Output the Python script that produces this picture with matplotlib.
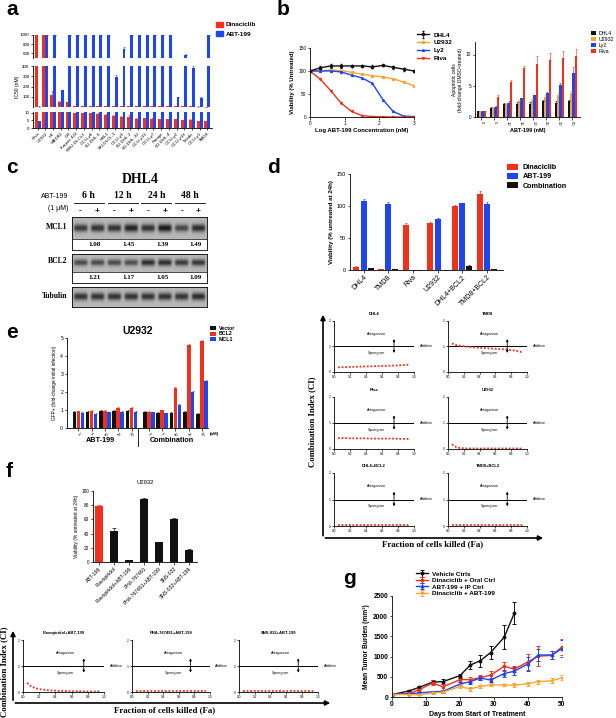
import numpy as np
import matplotlib
matplotlib.use("Agg")
import matplotlib.pyplot as plt
from matplotlib.patches import FancyArrowPatch, Rectangle
from matplotlib.lines import Line2D

plt.rcParams["font.family"] = ["Liberation Sans", "DejaVu Sans"]
plt.rcParams["axes.linewidth"] = 0.6

W, H = 616, 718
RED = "#f2311d"
BLUE = "#1f45f0"
ORANGE = "#f5a833"
BLACK = "#111111"
SERIF = ["Liberation Serif", "DejaVu Serif"]

# ---- a: IC50 per cell line ----
a_lines = ["Riva", "U2932", "HT", "MEDB1", "DB", "Karpas 422", "WSU-DLCL2", "OCI-Ly8",
           "SU-DHL-6", "HBL1", "SKI-DLCL-1", "OCI-Ly3", "SU-DHL-2", "SU-DHL-10", "OCI-Ly19",
           "OCI-Ly7", "Farage", "SU-DHL-4", "OCI-Ly2", "OCI-Ly18", "Toledo", "OCI-Ly1", "TMD8"]
a_dina = [1000, 1000, 120, 50, 45, 10, 10, 10, 9.5, 8.5, 8.0, 7.3, 7.5, 6.2, 6.3, 6.0,
          5.8, 5.7, 5.9, 5.0, 5.4, 4.6, 4.3]
a_dina_err = [0, 0, 35, 5, 5, 0, 0, 0, 0.3, 0.4, 0.3, 0.3, 0.8, 0.3, 0.3, 0.3,
              0.3, 0.3, 0.3, 0.3, 0.4, 0.3, 0.3]
a_abt = [4.5, 1000, 1000, 165, 1000, 1000, 1000, 1000, 1000, 1000, 290, 700, 1000, 1000,
         1000, 1000, 1000, 1000, 95, 560, 380, 90, 1000]
a_abt_err = [0.4, 0, 0, 5, 0, 0, 0, 0, 0, 0, 25, 50, 0, 0, 0, 0, 0, 0, 4, 20, 20, 5, 0]

# ---- b: viability curves ----
b_logc = [0, 0.3, 0.6, 0.9, 1.2, 1.5, 1.8, 2.1, 2.4, 2.7, 3.0]
b_dhl4 = [100, 107, 111, 111, 111, 111, 109, 112, 108, 104, 100]
b_dhl4_err = [0, 3, 4, 4, 2, 2, 3, 2, 3, 3, 3]
b_u2932 = [100, 101, 102, 101, 97, 93, 90, 87, 83, 76, 68]
b_ly2 = [100, 100, 100, 98, 91, 85, 73, 38, 12, 2, 1]
b_riva = [100, 82, 57, 30, 12, 3, 1, 0.5, 0, 0, 0]

# ---- b: apoptosis bars ----
b_doses = ["0", "5", "10", "15", "20", "25", "30", "50"]
b_apo = {
    "DHL4": [1.0, 1.5, 2.1, 2.1, 2.1, 2.5, 2.2, 2.6],
    "U2932": [1.0, 1.5, 2.1, 2.6, 2.7, 3.2, 3.5, 3.9],
    "Ly2": [1.0, 1.6, 2.3, 3.0, 3.5, 3.9, 5.2, 7.0],
    "Riva": [1.0, 3.2, 5.6, 7.8, 8.5, 9.2, 9.5, 9.7],
}
b_apo_err = {
    "DHL4": [0, 0.15, 0.2, 0.3, 0.3, 0.3, 0.4, 0.1],
    "U2932": [0, 0.1, 0.2, 0.2, 0.3, 0.3, 0.5, 0.2],
    "Ly2": [0, 0.1, 0.2, 0.1, 0.1, 0.1, 0.2, 1.0],
    "Riva": [0, 0.3, 0.4, 0.3, 1.2, 1.1, 1.0, 1.2],
}

# ---- c: western blot ----
c_times = ["6 h", "12 h", "24 h", "48 h"]
c_mcl1_ratio = ["1.08", "1.45", "1.39", "1.49"]
c_bcl2_ratio = ["1.21", "1.17", "1.05", "1.09"]
c_mcl1_band = [0.80, 0.85, 0.85, 0.95, 0.85, 1.00, 0.72, 0.88]
c_bcl2_band = [0.70, 0.70, 0.70, 0.68, 0.88, 0.88, 0.80, 0.82]
c_tub_band = [0.85, 0.85, 0.85, 0.85, 0.85, 0.85, 0.85, 0.90]

# ---- d: viability bars ----
d_lines = ["DHL4", "TMD8", "Riva", "U2932", "DHL4+BCL2", "TMD8+BCL2"]
d_dina = [5, 1, 71, 74, 100, 118]
d_abt = [108, 103, 0.5, 79, 104, 103]
d_comb = [3, 1, 0.5, 0.5, 7, 1.5]
d_dina_err = [0.5, 0, 2, 1, 1.5, 6]
d_abt_err = [3, 4, 0, 2, 1, 3]
d_comb_err = [0.3, 0, 0, 0, 0.5, 0.2]

# ---- CI curves ----
fa = [0.05, 0.10, 0.15, 0.20, 0.25, 0.30, 0.35, 0.40, 0.45, 0.50,
      0.55, 0.60, 0.65, 0.70, 0.75, 0.80, 0.85, 0.90, 0.95]
ci_dhl4 = [0.18, 0.19, 0.19, 0.20, 0.20, 0.21, 0.21, 0.22, 0.22, 0.23,
           0.23, 0.24, 0.24, 0.25, 0.25, 0.26, 0.27, 0.28, 0.29]
ci_tmd8 = [1.12, 1.06, 1.03, 1.01, 0.99, 0.97, 0.96, 0.95, 0.94, 0.93,
           0.92, 0.91, 0.90, 0.89, 0.88, 0.86, 0.84, 0.81, 0.76]
ci_riva = [0.42, 0.42, 0.42, 0.41, 0.41, 0.41, 0.41, 0.41, 0.40, 0.40,
           0.40, 0.40, 0.40, 0.40, 0.40, 0.39, 0.39, 0.39, 0.39]
ci_u2932 = [0.18, 0.08, 0.04, 0.03, 0.02, 0.02, 0.02, 0.02, 0.02, 0.02,
            0.02, 0.02, 0.02, 0.02, 0.02, 0.02, 0.02, 0.02, 0.02]
ci_dhl4_bcl2 = [0.02, 0.02, 0.02, 0.02, 0.02, 0.02, 0.02, 0.02, 0.02, 0.02,
                0.02, 0.02, 0.02, 0.02, 0.02, 0.02, 0.02, 0.02, 0.02]
ci_tmd8_bcl2 = [0.02, 0.02, 0.02, 0.02, 0.02, 0.02, 0.02, 0.02, 0.02, 0.02,
                0.02, 0.02, 0.02, 0.02, 0.02, 0.02, 0.02, 0.02, 0.02]
ci_flavo = [0.35, 0.22, 0.15, 0.11, 0.09, 0.07, 0.06, 0.05, 0.04, 0.04,
            0.03, 0.03, 0.03, 0.03, 0.02, 0.02, 0.02, 0.02, 0.02]
ci_pha = [0.02, 0.02, 0.02, 0.02, 0.02, 0.02, 0.02, 0.02, 0.02, 0.02,
          0.02, 0.02, 0.02, 0.02, 0.02, 0.02, 0.02, 0.02, 0.02]
ci_sns = [0.02, 0.02, 0.02, 0.02, 0.02, 0.02, 0.02, 0.02, 0.02, 0.02,
          0.02, 0.02, 0.02, 0.02, 0.02, 0.02, 0.02, 0.02, 0.02]

# ---- e: GFP competition ----
e_doses = ["1", "5", "10", "25", "50"]
e_vector = [0.90, 0.90, 0.95, 0.95, 0.95, 0.88, 0.85, 0.85, 0.90, 0.80]
e_bcl2 = [0.92, 0.95, 0.97, 1.12, 1.10, 0.88, 0.98, 2.25, 4.60, 4.85]
e_mcl1 = [0.85, 0.80, 0.87, 0.88, 0.88, 0.87, 0.82, 1.27, 2.00, 2.60]

# ---- f: CDK inhibitors ----
f_treat = ["ABT-199", "Flavopiridol", "Flavopiridol+ABT-199", "PHA-767491",
           "PHA-767491+ABT-199", "SNS-032", "SNS-032+ABT-199"]
f_viab = [79, 44, 2.5, 89, 28, 61, 17]
f_err = [1.5, 4, 0.3, 1, 0.8, 1.5, 0.8]

# ---- g: xenograft ----
g_days_vehicle = [0, 5, 8, 12, 15, 20, 23, 26, 29, 33, 36]
g_vehicle = [60, 150, 240, 370, 380, 530, 790, 900, 1100, 1480, 2080]
g_vehicle_err = [10, 20, 30, 50, 60, 50, 100, 150, 170, 300, 270]
g_days = [0, 5, 8, 12, 15, 20, 23, 26, 29, 33, 36, 40, 43, 47, 50]
g_dina = [60, 90, 180, 350, 250, 430, 430, 480, 540, 760, 690, 870, 1010, 1030, 1240]
g_dina_err = [10, 20, 30, 60, 70, 60, 70, 60, 100, 110, 70, 200, 250, 100, 200]
g_abt = [60, 80, 100, 130, 140, 320, 380, 470, 420, 580, 640, 820, 1040, 1040, 1200]
g_abt_err = [10, 15, 20, 20, 30, 50, 60, 60, 60, 80, 100, 180, 150, 100, 220]
g_combo = [60, 60, 50, 100, 120, 260, 200, 260, 300, 300, 290, 330, 380, 400, 480]
g_combo_err = [10, 10, 10, 20, 20, 40, 40, 40, 40, 30, 50, 50, 50, 60, 70]


def add_ax(fig, x0, y0, x1, y1):
    return fig.add_axes([x0 / W, 1 - y1 / H, (x1 - x0) / W, (y1 - y0) / H])


def ftext(fig, x, y, s, **kw):
    return fig.text(x / W, 1 - y / H, s, **kw)


def prism(ax, fs=3.5, length=1.8):
    for s in ["top", "right"]:
        ax.spines[s].set_visible(False)
    for s in ["left", "bottom"]:
        ax.spines[s].set_linewidth(0.6)
    ax.tick_params(direction="out", length=length, width=0.5, labelsize=fs, pad=1)


def arrow(fig, p0, p1, lw=1.2, ms=7):
    a = FancyArrowPatch((p0[0] / W, 1 - p0[1] / H), (p1[0] / W, 1 - p1[1] / H),
                        transform=fig.transFigure, arrowstyle="-|>", mutation_scale=ms,
                        lw=lw, color="black")
    fig.add_artist(a)


def ci_panel(ax, ci, title, fs=2.6):
    prism(ax, fs=2.3, length=1.2)
    ax.set_xlim(0, 1.0)
    ax.set_ylim(0, 2)
    ax.set_xticks([0, 0.2, 0.4, 0.6, 0.8, 1.0])
    ax.set_xticklabels(["0.0", "0.2", "0.4", "0.6", "0.8", "1.0"])
    ax.set_yticks([0, 1, 2])
    ax.plot([0, 1], [1, 1], color="black", lw=0.7)
    ax.text(1.07, 1, "Additive", ha="left", va="center", fontsize=fs, clip_on=False)
    ax.annotate("", xy=(0.75, 1.40), xytext=(0.75, 0.64),
                arrowprops=dict(arrowstyle="<|-|>", lw=0.6, mutation_scale=3, color="black"))
    ax.text(0.53, 1.5, "Antagonism", ha="center", va="center", fontsize=fs)
    ax.text(0.53, 0.74, "Synergism", ha="center", va="center", fontsize=fs)
    ax.plot(fa, ci, ls=(0, (1.0, 1.0)), color=RED, lw=1.3, clip_on=False)
    ax.set_title(title, fontsize=3.0, fontweight="bold", pad=4)


fig = plt.figure(figsize=(W / 100, H / 100), dpi=100)

# panel letters
for letter, x, y in [("a", 6, 15), ("b", 277, 15), ("c", 6, 173), ("d", 267, 173),
                     ("e", 6, 338), ("f", 6, 477), ("g", 343, 584)]:
    ftext(fig, x, y, letter, fontsize=15, fontweight="bold", va="baseline")

# ================= a =================
xa = np.arange(len(a_lines))
bw = 0.38
segs = [(35, 58, 500, 1000, [600, 800, 1000]),
        (66, 107, 0, 400, [100, 200, 300, 400]),
        (112, 128, 0, 10.5, [0, 5, 10])]
for i, (y0, y1, lo, hi, ticks) in enumerate(segs):
    ax = add_ax(fig, 33, y0, 212, y1)
    prism(ax, fs=3.2, length=1.5)
    ax.bar(xa - bw / 2, a_dina, bw, color=RED, linewidth=0)
    ax.bar(xa + bw / 2, a_abt, bw, color=BLUE, linewidth=0)
    ax.errorbar(xa - bw / 2, a_dina, yerr=[[0] * len(xa), a_dina_err], fmt="none",
                ecolor=RED, elinewidth=0.4, capsize=0.8, capthick=0.4)
    ax.errorbar(xa + bw / 2, a_abt, yerr=[[0] * len(xa), a_abt_err], fmt="none",
                ecolor=BLUE, elinewidth=0.4, capsize=0.8, capthick=0.4)
    ax.set_xlim(-0.6, len(xa) - 0.4)
    ax.set_ylim(lo, hi)
    ax.set_yticks(ticks)
    if i < 2:
        ax.spines["bottom"].set_visible(False)
        ax.set_xticks([])
    else:
        ax.set_xticks(xa)
        ax.set_xticklabels(a_lines, rotation=45, ha="right", rotation_mode="anchor",
                           fontsize=3.2)
    if i == 1:
        ax.set_ylabel("IC50 (nM)", fontsize=3.6, labelpad=2)
for k, (lab, col) in enumerate([("Dinaciclib", RED), ("ABT-199", BLUE)]):
    fig.add_artist(Rectangle(((216) / W, 1 - (27 + 9 * k) / H), 7 / W, 5 / H,
                             transform=fig.transFigure, color=col))
    ftext(fig, 226, 25 + 9 * k, lab, fontsize=4.6, fontweight="bold", va="center")

# ================= b left =================
ax = add_ax(fig, 310, 48, 414, 117)
prism(ax, fs=3.4)
h_dhl4 = ax.errorbar(b_logc, b_dhl4, yerr=b_dhl4_err, color=BLACK, marker="o", ms=1.6, lw=1.0,
                     elinewidth=0.5, capsize=1)
h_u = ax.plot(b_logc, b_u2932, color=ORANGE, marker="s", ms=1.4, lw=1.0)[0]
h_ly = ax.plot(b_logc, b_ly2, color=BLUE, marker="^", ms=1.4, lw=1.0)[0]
h_r = ax.plot(b_logc, b_riva, color=RED, marker="v", ms=1.4, lw=1.0)[0]
ax.set_xlim(0, 3)
ax.set_ylim(0, 150)
ax.set_xticks([0, 1, 2, 3])
ax.set_yticks([0, 50, 100, 150])
ax.set_xlabel("Log ABT-199 Concentration (nM)", fontsize=4.3, fontweight="bold", labelpad=1.5)
ax.set_ylabel("Viability (% Untreated)", fontsize=4.3, fontweight="bold", labelpad=2)
ax.legend([h_dhl4, h_u, h_ly, h_r], ["DHL4", "U2932", "Ly2", "Riva"],
          loc="upper left", bbox_to_anchor=(414 / W, 1 - 29 / H), bbox_transform=fig.transFigure,
          frameon=False, handlelength=1.8, labelspacing=0.35, borderpad=0,
          prop={"weight": "bold", "size": 4.6})

# ================= b right =================
ax = add_ax(fig, 475, 42, 580, 117)
prism(ax, fs=3.4)
xb = np.arange(len(b_doses))
bw = 0.18
for k, (name, col) in enumerate([("DHL4", BLACK), ("U2932", ORANGE), ("Ly2", BLUE), ("Riva", RED)]):
    off = (k - 1.5) * bw
    ax.bar(xb + off, b_apo[name], bw, color=col, linewidth=0, label=name)
    ax.errorbar(xb + off, b_apo[name], yerr=[[0] * len(xb), b_apo_err[name]], fmt="none",
                ecolor=col, elinewidth=0.4, capsize=0.7, capthick=0.4)
ax.set_xlim(-0.5, len(xb) - 0.4)
ax.set_ylim(0, 12)
ax.set_yticks([0, 5, 10])
ax.set_xticks(xb)
ax.set_xticklabels(b_doses, rotation=-90, fontsize=3.0)
ax.set_xlabel("ABT-199 (nM)", fontsize=4.0, fontweight="bold", labelpad=2)
ax.set_ylabel("Apoptotic cells\n(fold-change DMSO-treated)", fontsize=3.6, labelpad=2)
ax.legend(loc="upper left", bbox_to_anchor=(588 / W, 1 - 28 / H), bbox_transform=fig.transFigure,
          frameon=False, handlelength=1.1, handleheight=0.8, labelspacing=0.2, borderpad=0,
          handletextpad=0.4, prop={"size": 3.8})

# ================= c blot =================
ftext(fig, 140, 183, "DHL4", fontsize=10, fontweight="bold", family=SERIF, ha="center",
      va="baseline")
ftext(fig, 68, 196, "ABT-199", fontsize=5, ha="right", va="center")
ftext(fig, 68, 208, "(1 μM)", fontsize=5, ha="right", va="center")
lane_w = (207 - 72) / 8
lane_x = [72 + lane_w * (i + 0.5) for i in range(8)]
for t, name in enumerate(c_times):
    xc = 72 + lane_w * (2 * t + 1)
    ftext(fig, xc, 196, name, fontsize=7, fontweight="bold", family=SERIF, ha="center",
          va="center")
    fig.add_artist(Line2D([(xc - 15) / W, (xc + 15) / W], [1 - 203 / H, 1 - 203 / H],
                          transform=fig.transFigure, color="black", lw=0.6))
for i, xc in enumerate(lane_x):
    ftext(fig, xc, 211, "-" if i % 2 == 0 else "+", fontsize=6, fontweight="bold",
          ha="center", va="center")


def blot_strip(y0, y1, strength, ytop_box, ybot_box, ratios, label, label_y):
    ax = add_ax(fig, 72, ytop_box, 207, ybot_box)
    ax.set_xlim(0, 8)
    ax.set_ylim(ybot_box, ytop_box)
    ax.set_xticks([])
    ax.set_yticks([])
    for s in ax.spines.values():
        s.set_linewidth(0.6)
    nx, ny = 240, 40
    xs = np.linspace(0, 8, nx)
    ys = np.linspace(0, 1, ny)
    img = np.full((ny, nx), 0.72)
    for i, st in enumerate(strength):
        prof_x = 1 / (1 + np.exp(-(xs - i - 0.12) * 25)) * (1 / (1 + np.exp((xs - i - 0.9) * 25)))
        prof_y = np.exp(-((ys - 0.5) / (0.13 + 0.06 * st)) ** 2)
        img -= 0.62 * st * np.outer(prof_y, prof_x)
    ax.imshow(img, cmap="gray", vmin=0, vmax=1, extent=(0, 8, y1, y0), aspect="auto",
              interpolation="bilinear")
    if ratios is not None:
        ax.plot([0, 8], [y1, y1], color="black", lw=0.5)
        for t, r in enumerate(ratios):
            ax.text(2 * t + 1.35, (y1 + ybot_box) / 2, r, ha="center", va="center",
                    fontsize=5, fontweight="bold", family=SERIF)
    ftext(fig, 67, label_y, label, fontsize=5.5, fontweight="bold", family=SERIF,
          ha="right", va="center")


blot_strip(217, 239, c_mcl1_band, 217, 250, c_mcl1_ratio, "MCL1", 227)
blot_strip(254, 272, c_bcl2_band, 254, 283, c_bcl2_ratio, "BCL2", 261)
blot_strip(287, 307, c_tub_band, 287, 307, None, "Tubulin", 296)

# ================= d bars =================
ax = add_ax(fig, 350, 174, 503, 270)
prism(ax, fs=4.0)
xd = np.arange(len(d_lines))
bw = 0.24
for off, vals, errs, col, lab in [(-0.29, d_dina, d_dina_err, RED, "Dinaciclib"),
                                  (0.0, d_abt, d_abt_err, BLUE, "ABT-199"),
                                  (0.29, d_comb, d_comb_err, BLACK, "Combination")]:
    ax.bar(xd + off, vals, bw, color=col, linewidth=0, label=lab)
    ax.errorbar(xd + off, vals, yerr=[[0] * len(xd), errs], fmt="none", ecolor=col,
                elinewidth=0.5, capsize=1, capthick=0.5)
ax.set_xlim(-0.55, len(xd) - 0.35)
ax.set_ylim(0, 150)
ax.set_yticks([0, 50, 100, 150])
ax.set_xticks(xd)
ax.set_xticklabels(d_lines, rotation=45, ha="right", rotation_mode="anchor", fontsize=5)
ax.set_ylabel("Viability (% untreated at 24h)", fontsize=4.4, fontweight="bold", labelpad=2)
ax.legend(loc="upper left", bbox_to_anchor=(503 / W, 1 - 160 / H), bbox_transform=fig.transFigure,
          frameon=False, handlelength=1.6, handleheight=0.9, labelspacing=0.25, borderpad=0,
          handletextpad=0.6, prop={"size": 5.2, "weight": "bold"})

# d CI panels
d_ci = [("DHL4", ci_dhl4), ("TMD8", ci_tmd8), ("Riva", ci_riva), ("U2932", ci_u2932),
        ("DHL4+BCL2", ci_dhl4_bcl2), ("TMD8+BCL2", ci_tmd8_bcl2)]
rows = [(321, 372), (397, 449), (473, 526)]
cols = [(334, 414), (448, 527)]
for k, (name, ci) in enumerate(d_ci):
    r, c = divmod(k, 2)
    ax = add_ax(fig, cols[c][0], rows[r][0], cols[c][1], rows[r][1])
    ci_panel(ax, ci, name)
arrow(fig, (323, 538.5), (323, 312))
arrow(fig, (322.5, 538), (546, 538))
ftext(fig, 312, 422, "Combination Index (CI)", rotation=90, fontsize=6.3, fontweight="bold",
      family=SERIF, ha="center", va="center")
ftext(fig, 433, 544, "Fraction of cells killed (Fa)", fontsize=6.3, fontweight="bold",
      family=SERIF, ha="center", va="center")

# ================= e =================
ax = add_ax(fig, 67, 338, 208, 428)
prism(ax, fs=3.6)
xe = np.array([0, 1, 2, 3, 4, 5.3, 6.3, 7.3, 8.3, 9.3])
bw = 0.27
for off, vals, col, lab in [(-0.3, e_vector, BLACK, "Vector"), (0.0, e_bcl2, RED, "BCL2"),
                            (0.3, e_mcl1, BLUE, "MCL1")]:
    ax.bar(xe + off, vals, bw, color=col, linewidth=0, label=lab)
    ax.errorbar(xe + off, vals, yerr=[[0] * len(xe), [0.04] * len(xe)], fmt="none",
                ecolor=col, elinewidth=0.4, capsize=0.7, capthick=0.4)
ax.set_xlim(-0.85, 9.75)
ax.set_ylim(0, 5)
ax.set_yticks([0, 1, 2, 3, 4, 5])
ax.set_xticks(xe)
ax.set_xticklabels(e_doses + e_doses, rotation=-45, fontsize=3.0)
ax.set_ylabel("GFP+ (fold-change initial infection)", fontsize=3.4, labelpad=2)
ax.set_title("U2932", fontsize=7.5, fontweight="bold", pad=3)
ax.text(1.01, -0.04, "(nM)", transform=ax.transAxes, fontsize=3.2, fontweight="bold",
        ha="left", va="top")
fig.add_artist(Line2D([138 / W, 138 / W], [1 - 429 / H, 1 - 446 / H],
                      transform=fig.transFigure, color="black", lw=0.6))
ftext(fig, 100, 440, "ABT-199", fontsize=5.2, fontweight="bold", ha="center", va="center")
ftext(fig, 172, 440, "Combination", fontsize=5.2, fontweight="bold", ha="center", va="center")
ax.legend(loc="upper left", bbox_to_anchor=(207 / W, 1 - 323 / H), bbox_transform=fig.transFigure,
          frameon=False, handlelength=1.2, handleheight=0.8, labelspacing=0.15, borderpad=0,
          handletextpad=0.5, prop={"size": 3.8, "weight": "bold"})

# ================= f bars =================
ax = add_ax(fig, 93, 491, 197, 562)
prism(ax, fs=3.4)
xf = np.arange(len(f_treat))
f_cols = [RED] + [BLACK] * (len(f_treat) - 1)
ax.bar(xf, f_viab, 0.55, color=f_cols, linewidth=0)
for x, v, e, col in zip(xf, f_viab, f_err, f_cols):
    ax.errorbar(x, v, yerr=[[0], [e]], fmt="none", ecolor=col, elinewidth=0.5,
                capsize=1.2, capthick=0.5)
ax.set_xlim(-0.4, len(f_treat) - 0.45)
ax.set_ylim(0, 100)
ax.set_yticks([0, 20, 40, 60, 80, 100])
ax.set_xticks(xf)
ax.set_xticklabels(f_treat, rotation=45, ha="right", rotation_mode="anchor", fontsize=3.6)
ax.set_ylabel("Viability (% untreated at 24h)", fontsize=3.5, labelpad=2)
ax.set_title("U2932", fontsize=4.2, pad=5)

# f CI panels
f_ci = [("Flavopiridol+ABT-199", ci_flavo), ("PHA-767491+ABT-199", ci_pha),
        ("SNS-032+ABT-199", ci_sns)]
f_cols_px = [(23, 104), (132, 210), (239, 318)]
for (name, ci), (x0, x1) in zip(f_ci, f_cols_px):
    ax = add_ax(fig, x0, 640, x1, 692)
    ci_panel(ax, ci, name)
arrow(fig, (13, 703), (13, 628))
arrow(fig, (12.5, 703), (333, 703))
ftext(fig, 4, 672, "Combination Index (CI)", rotation=90, fontsize=6.3, fontweight="bold",
      family=SERIF, ha="center", va="center")
ftext(fig, 165, 710, "Fraction of cells killed (Fa)", fontsize=6.3, fontweight="bold",
      family=SERIF, ha="center", va="center")

# ================= g =================
ax = add_ax(fig, 392, 596, 562, 697)
prism(ax, fs=4.8)
for days, vals, errs, col, mk, lab in [
        (g_days_vehicle, g_vehicle, g_vehicle_err, BLACK, "o", "Vehicle Ctrls"),
        (g_days, g_dina, g_dina_err, RED, "s", "Dinaciclib + Oral Ctrl"),
        (g_days, g_abt, g_abt_err, BLUE, "^", "ABT-199 + IP Ctrl"),
        (g_days, g_combo, g_combo_err, ORANGE, "v", "Dinaciclib + ABT-199")]:
    ax.errorbar(days, vals, yerr=errs, color=col, marker=mk, ms=1.8, lw=1.0,
                elinewidth=0.7, capsize=1.5, capthick=0.7, label=lab)
ax.set_xlim(0, 50)
ax.set_ylim(0, 2500)
ax.set_xticks([0, 10, 20, 30, 40, 50])
ax.set_yticks([0, 500, 1000, 1500, 2000, 2500])
for lab in ax.get_xticklabels() + ax.get_yticklabels():
    lab.set_fontweight("bold")
ax.set_xlabel("Days from Start of Treatment", fontsize=5, fontweight="bold", labelpad=2)
ax.set_ylabel("Mean Tumor Burden (mm³)", fontsize=4.8, fontweight="bold", labelpad=2)
ax.legend(loc="upper left", bbox_to_anchor=(413 / W, 1 - 568 / H), bbox_transform=fig.transFigure,
          frameon=False, handlelength=1.8, labelspacing=0.15, borderpad=0,
          handletextpad=0.6, prop={"size": 4.6, "weight": "bold"})

fig.savefig("out.png", dpi=100)
